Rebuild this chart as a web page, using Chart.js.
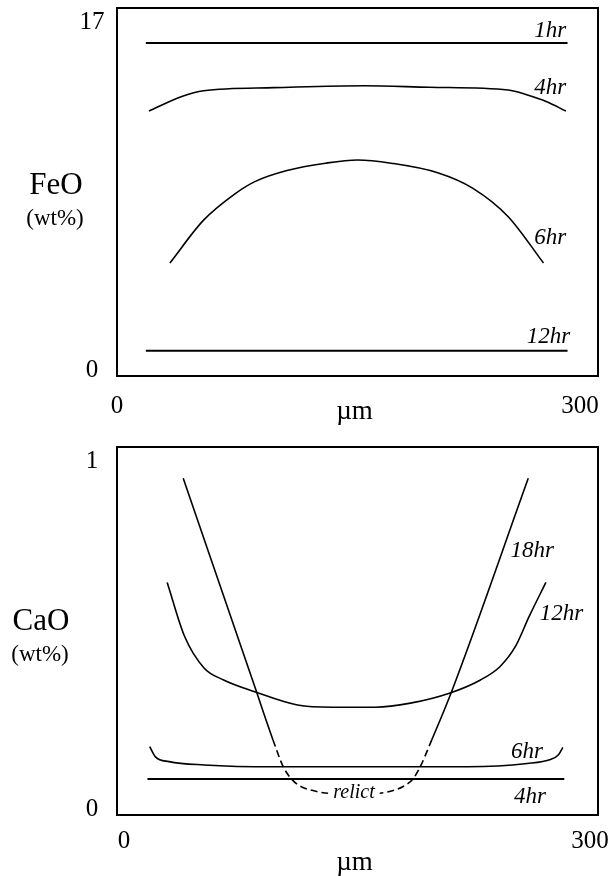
<!DOCTYPE html>
<html>
<head>
<meta charset="utf-8">
<script src="https://cdn.jsdelivr.net/npm/chart.js@4.4.1/dist/chart.umd.min.js"></script>
<style>
  html, body { margin: 0; padding: 0; background: #fff; }
  #wrap { position: relative; width: 610px; height: 876px; }
  canvas { position: absolute; left: 0; }
</style>
</head>
<body>
<div id="wrap">
  <canvas id="feo" width="610" height="430" style="top:0"></canvas>
  <canvas id="cao" width="610" height="446" style="top:430px"></canvas>
</div>
<script>
// ---- FeO profiles (distance in µm, FeO in wt%) ----
const feo1hrX  = [18, 281];
const feo1hrY  = [15.38, 15.38];
const feo4hrX  = [20, 40, 54, 98, 154, 195, 244, 256, 268, 280];
const feo4hrY  = [12.24, 12.90, 13.18, 13.32, 13.41, 13.34, 13.21, 12.98, 12.67, 12.24];
const feo6hrX  = [33, 54, 74, 86, 106, 130, 150, 171, 200, 222, 244, 266];
const feo6hrY  = [5.22, 7.20, 8.44, 8.98, 9.49, 9.83, 9.98, 9.83, 9.39, 8.67, 7.36, 5.22];
const feo12hrX = [18, 281];
const feo12hrY = [1.17, 1.17];

// ---- CaO profiles (distance in µm, CaO in wt%) ----
const cao4hrX  = [19, 279];
const cao4hrY  = [0.098, 0.098];
const cao6hrX  = [20.4, 24, 32.5, 54.4, 98, 219, 255.8, 270.4, 275.2, 278.1];
const cao6hrY  = [0.186, 0.158, 0.145, 0.136, 0.131, 0.131, 0.140, 0.151, 0.163, 0.184];
const cao12hrX = [31.3, 42.2, 54.4, 66.5, 85.9, 112.6, 134.5, 161.2, 183, 207.3, 226.7, 238.8, 248.5, 257, 267.5];
const cao12hrY = [0.632, 0.485, 0.399, 0.367, 0.335, 0.299, 0.293, 0.293, 0.304, 0.331, 0.367, 0.403, 0.458, 0.539, 0.632];
const cao18hrX = [41.3, 85.9, 97.3, 103.7, 109, 114.1, 121.6, 132.9, 161.5, 173.4, 180.2, 184.6, 189, 196.3, 208.3, 256.5];
const cao18hrY = [0.915, 0.349, 0.204, 0.131, 0.097, 0.079, 0.067, 0.059, 0.059, 0.068, 0.082, 0.098, 0.130, 0.204, 0.331, 0.915];
// below this level the 18hr profile is the relict core, drawn dashed
const relictLevel = 0.21;

// ---- axis ticks and labels ----
const xTicks = [0, 300];
const feoTicks = [0, 17];
const caoTicks = [0, 1];
const feoNames = ['1hr', '4hr', '6hr', '12hr'];
const caoNames = ['18hr', '12hr', '6hr', '4hr'];
const relictName = 'relict';

// label anchors (data units: right edge / baseline)
const feoNameAt = [[280.1, 15.66], [280.1, 13.03], [280.1, 6.10], [282.6, 1.52]];
const caoNameAt = [[272.6, 0.701], [290.7, 0.530], [265.7, 0.155], [267.6, 0.0326]];
const relictAt = [147.8, 0.046];

const SERIF = '"Liberation Serif", "Times New Roman", Times, serif';

function drawText(ctx, txt, x, y, size, opts = {}) {
  ctx.save();
  ctx.font = (opts.italic ? 'italic ' : '') + size + 'px ' + SERIF;
  ctx.textAlign = opts.align || 'center';
  ctx.textBaseline = 'alphabetic';
  if (opts.knockout) {
    const w = ctx.measureText(txt).width;
    ctx.fillStyle = '#fff';
    ctx.fillRect(x - w / 2 - 5, y - size * 0.72, w + 10, size * 0.8);
  }
  ctx.fillStyle = '#000';
  ctx.fillText(txt, x, y);
  ctx.restore();
}

function decor(cfg) {
  return {
    id: 'panelDecor',
    afterDatasetsDraw(chart) {
      const { ctx, chartArea: a, scales: { x, y } } = chart;
      // frame
      ctx.save();
      ctx.lineWidth = 2;
      ctx.strokeStyle = '#000';
      ctx.strokeRect(a.left, a.top, a.right - a.left, a.bottom - a.top);
      ctx.restore();
      // y ticks at the corners
      cfg.yTicks.forEach(v => {
        const off = v === cfg.yTicks[cfg.yTicks.length - 1] ? 21 : 1;
        drawText(ctx, String(v), 92, y.getPixelForValue(v) + off, 25);
      });
      // x ticks
      drawText(ctx, String(xTicks[0]), x.getPixelForValue(xTicks[0]) + cfg.x0Shift, a.bottom + cfg.tickGap, 25);
      drawText(ctx, String(xTicks[1]), x.getPixelForValue(xTicks[1]) + cfg.x1Shift, a.bottom + cfg.tickGap, 25);
      // x title
      drawText(ctx, 'µm', (a.left + a.right) / 2 - 3, a.bottom + cfg.titleGap, 27);
      // y title
      drawText(ctx, cfg.yName, cfg.yNameX, cfg.yNameY, cfg.yNameSize);
      drawText(ctx, '(wt%)', cfg.unitX, cfg.yNameY + 31, cfg.unitSize);
      // series names
      cfg.names.forEach((n, i) => {
        const [vx, vy] = cfg.nameAt[i];
        drawText(ctx, n, x.getPixelForValue(vx), y.getPixelForValue(vy), 23, { italic: true, align: 'right' });
      });
      if (cfg.extra) cfg.extra(ctx, x, y);
    }
  };
}

function series(xs, ys, width, segment) {
  return {
    data: xs.map((v, i) => ({ x: v, y: ys[i] })),
    borderColor: '#000',
    borderWidth: width,
    pointRadius: 0,
    fill: false,
    cubicInterpolationMode: 'monotone',
    segment: segment || {}
  };
}

function makeChart(id, datasets, yMax, padding, plugin) {
  return new Chart(document.getElementById(id), {
    type: 'line',
    data: { datasets },
    options: {
      responsive: false,
      animation: false,
      events: [],
      layout: { padding },
      plugins: { legend: { display: false }, tooltip: { enabled: false } },
      scales: {
        x: { type: 'linear', min: 0, max: 300, display: false },
        y: { type: 'linear', min: 0, max: yMax, display: false }
      }
    },
    plugins: [plugin]
  });
}

makeChart('feo', [
  series(feo1hrX, feo1hrY, 2),
  series(feo4hrX, feo4hrY, 1.6),
  series(feo6hrX, feo6hrY, 1.6),
  series(feo12hrX, feo12hrY, 2)
], feoTicks[1], { left: 117, right: 12, top: 8, bottom: 54 }, decor({
  yTicks: feoTicks, yName: 'FeO', yNameX: 56, yNameY: 194, yNameSize: 31,
  unitX: 55, unitSize: 23,
  x0Shift: 0, x1Shift: -18, tickGap: 37, titleGap: 43,
  names: feoNames, nameAt: feoNameAt
}));

const dashRelict = {
  borderDash: c => (c.p0.parsed.y < relictLevel && c.p1.parsed.y < relictLevel) ? [7, 4] : undefined
};

makeChart('cao', [
  series(cao4hrX, cao4hrY, 2),
  series(cao6hrX, cao6hrY, 1.6),
  series(cao12hrX, cao12hrY, 1.6),
  series(cao18hrX, cao18hrY, 1.6, dashRelict)
], caoTicks[1], { left: 117, right: 12, top: 17, bottom: 61 }, decor({
  yTicks: caoTicks, yName: 'CaO', yNameX: 41, yNameY: 200, yNameSize: 31,
  unitX: 40, unitSize: 23,
  x0Shift: 7, x1Shift: -8, tickGap: 33, titleGap: 55,
  names: caoNames, nameAt: caoNameAt,
  extra: (ctx, x, y) => drawText(ctx, relictName, x.getPixelForValue(relictAt[0]), y.getPixelForValue(relictAt[1]), 20, { italic: true, knockout: true })
}));
</script>
</body>
</html>
